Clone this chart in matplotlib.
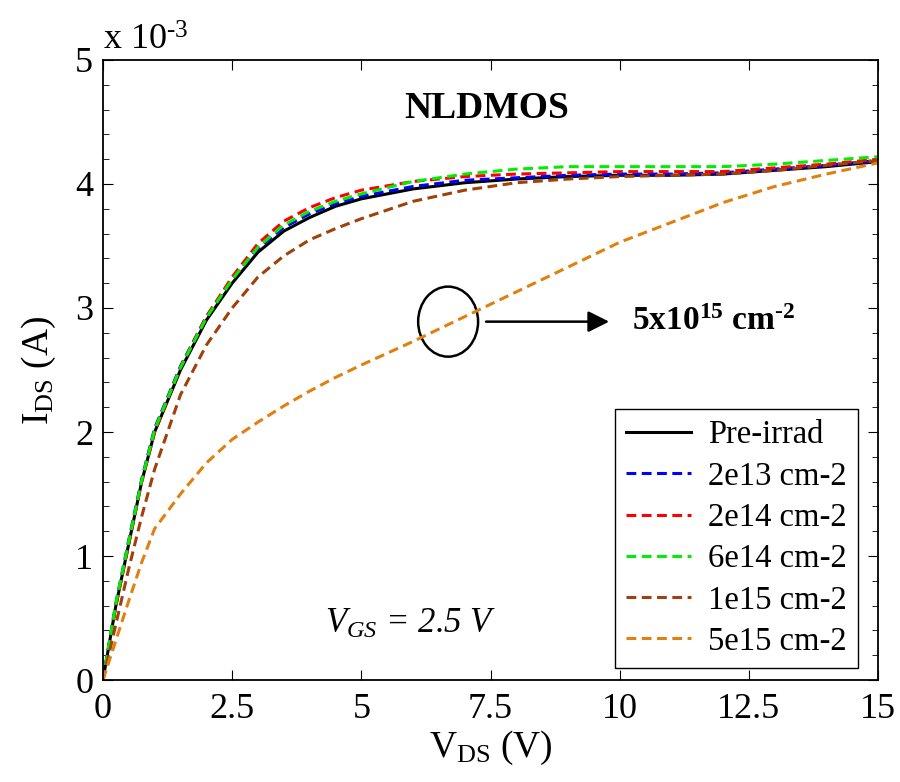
import matplotlib
matplotlib.use('Agg')
import matplotlib.pyplot as plt
from matplotlib.patches import Ellipse

plt.rcParams['font.family'] = ['Liberation Serif', 'DejaVu Serif']
plt.rcParams['mathtext.fontset'] = 'custom'
plt.rcParams['mathtext.rm'] = 'Liberation Serif'
plt.rcParams['mathtext.it'] = 'Liberation Serif:italic'
plt.rcParams['mathtext.bf'] = 'Liberation Serif:bold'

# Drain voltage (V) and drain current (x 1e-3 A) for each fluence
vds = [0, 0.25, 0.5, 0.75, 1, 1.5, 2, 2.5, 3, 3.5, 4, 4.5, 5, 6, 7, 8, 9, 10, 11, 12, 13, 14, 15]
pre_irrad = [0, 0.6, 1.1, 1.6, 2.0, 2.5, 2.9, 3.2, 3.45, 3.62, 3.73, 3.82, 3.88, 3.96, 4.01, 4.04, 4.06, 4.07, 4.07, 4.08, 4.11, 4.14, 4.18]
f_2e13 = [0, 0.62, 1.13, 1.62, 2.03, 2.53, 2.93, 3.23, 3.48, 3.65, 3.76, 3.84, 3.90, 3.98, 4.03, 4.05, 4.07, 4.08, 4.08, 4.09, 4.12, 4.15, 4.19]
f_2e14 = [0, 0.6, 1.1, 1.6, 2.0, 2.52, 2.93, 3.25, 3.52, 3.70, 3.81, 3.89, 3.95, 4.02, 4.06, 4.08, 4.09, 4.10, 4.10, 4.10, 4.13, 4.16, 4.20]
f_6e14 = [0, 0.62, 1.12, 1.61, 2.02, 2.52, 2.92, 3.23, 3.49, 3.67, 3.78, 3.86, 3.92, 4.02, 4.08, 4.12, 4.14, 4.14, 4.14, 4.14, 4.16, 4.19, 4.22]
f_1e15 = [0, 0.45, 0.9, 1.32, 1.7, 2.3, 2.7, 3.0, 3.25, 3.42, 3.55, 3.64, 3.72, 3.86, 3.95, 4.01, 4.04, 4.06, 4.07, 4.08, 4.11, 4.15, 4.19]
f_5e15 = [0, 0.32, 0.64, 0.95, 1.22, 1.5, 1.75, 1.94, 2.08, 2.21, 2.33, 2.44, 2.54, 2.73, 2.93, 3.13, 3.33, 3.53, 3.69, 3.85, 3.98, 4.08, 4.17]

labels = ['Pre-irrad', '2e13 cm-2', '2e14 cm-2', '6e14 cm-2', '1e15 cm-2', '5e15 cm-2']
colors = ['black', '#0000ff', '#ff0000', '#00ee00', '#a0400a', '#e08010']
series = [pre_irrad, f_2e13, f_2e14, f_6e14, f_1e15, f_5e15]

fig = plt.figure(figsize=(9, 7.82), dpi=100)
ax = fig.add_axes([0.1144, 0.1304, 0.8612, 0.7929])

for i in range(len(series)):
    if i == 0:
        ax.plot(vds, series[i], '-', color=colors[i], lw=2.2, label=labels[i])
    else:
        ax.plot(vds, series[i], '--', color=colors[i], lw=2.2, label=labels[i], dashes=(3.2, 1.8))

ax.set_xlim(0, 15)
ax.set_ylim(0, 5)
ax.set_xticks([0, 2.5, 5, 7.5, 10, 12.5, 15])
ax.set_xticklabels(['0', '2.5', '5', '7.5', '10', '12.5', '15'])
ax.set_yticks([0, 1, 2, 3, 4, 5])
ax.set_yticks([i * 0.2 for i in range(26)], minor=True)
ax.tick_params(which='both', direction='in', top=True, right=True, labelsize=26)
ax.tick_params(axis='x', pad=9)
ax.tick_params(axis='y', pad=7)
ax.tick_params(which='major', length=7)
ax.tick_params(which='minor', length=4)
for s in ax.spines.values():
    s.set_linewidth(1.3)

ax.set_xlabel('V$_{\\mathrm{DS}}$ (V)', fontsize=27, labelpad=2)
ax.set_ylabel('I$_{\\mathrm{DS}}$ (A)', fontsize=27, labelpad=12)

fig.text(0.1144, 1 - 50 / 782, 'x 10$^{\\mathrm{\\text{-}3}}$', fontsize=26, ha='left', va='baseline')

ax.text(7.43, 4.61, 'NLDMOS', fontsize=27, fontweight='bold', ha='center', va='center')
ax.text(5.96, 0.38, '$V_{GS}$ = 2.5 V', fontsize=25, fontstyle='italic', ha='center', va='baseline')

ax.add_patch(Ellipse((6.68, 2.89), 1.16, 0.565, fill=False, lw=1.8, color='black'))
ax.annotate('', xy=(9.85, 2.89), xytext=(7.36, 2.89),
            arrowprops=dict(arrowstyle='-|>', lw=1.8, color='black', mutation_scale=32))
ax.text(10.24, 2.89, '5x10$^{\\mathbf{15}}$ cm$^{\\mathbf{\\text{-}2}}$', fontsize=24, fontweight='bold',
        ha='left', va='center')

leg = ax.legend(loc='lower right', bbox_to_anchor=(0.974, 0.019), borderaxespad=0,
                fontsize=23.5, frameon=True, fancybox=False, framealpha=1,
                edgecolor='black', handlelength=2.0, labelspacing=0.33, handletextpad=0.5,
                borderpad=0.35)
leg.get_frame().set_linewidth(1.0)

fig.savefig('out.png', dpi=100)
